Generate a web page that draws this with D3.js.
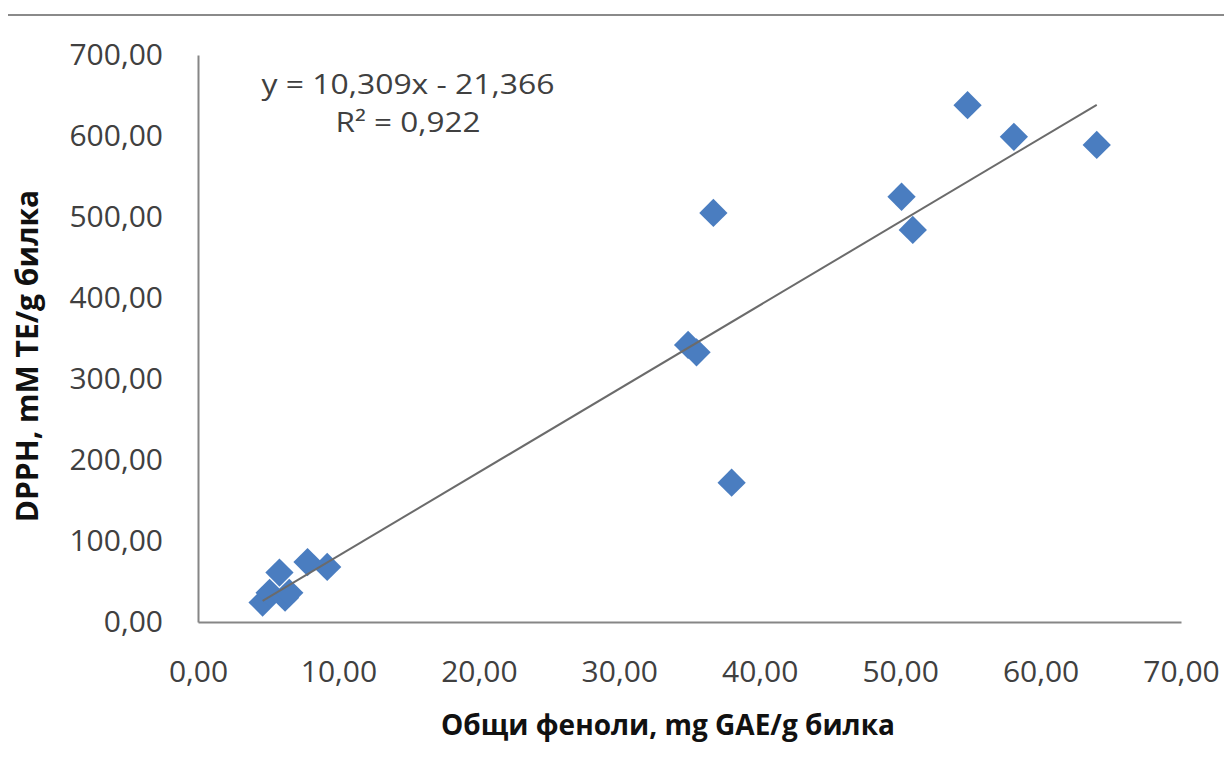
<!DOCTYPE html>
<html>
<head>
<meta charset="utf-8">
<script src="https://cdn.jsdelivr.net/npm/d3@7"></script>
<style>
  html, body { margin: 0; padding: 0; background: #fff; }
  svg { display: block; }
</style>
</head>
<body>
<svg id="chart" width="1224" height="782"></svg>
<script>
// Data
const phenols = [4.6, 5.1, 5.8, 6.2, 6.5, 7.8, 9.2, 34.9, 35.5, 36.7, 38.0, 50.1, 50.9, 54.8, 58.1, 64.0];
const dpph    = [24, 36, 61, 30, 36, 74, 68, 342, 333, 505, 172, 525, 484, 638, 599, 589];
const xTicks = [0, 10, 20, 30, 40, 50, 60, 70];
const yTicks = [0, 100, 200, 300, 400, 500, 600, 700];
const slope = 10.309;
const intercept = -21.366;
const equationLabel = "y = 10,309x - 21,366";
const r2Label = "R² = 0,922";
const xTitle = "Общи феноли, mg GAE/g билка";
const yTitle = "DPPH, mM TE/g билка";

(function () {
const svg = d3.select("#chart");
const W = 1224, H = 782;
const mLeft = 198, mRight = 1181, mTop = 55, mBottom = 622;

const x = d3.scaleLinear().domain([0, 70]).range([mLeft, mRight]);
const y = d3.scaleLinear().domain([0, 700]).range([mBottom, mTop]);
const fmt = v => d3.format(".2f")(v).replace(".", ",");

// top border line
svg.append("line")
  .attr("x1", 8).attr("x2", W).attr("y1", 15).attr("y2", 15)
  .attr("stroke", "#8a8a8a").attr("stroke-width", 2);

const font = "'Open Sans', sans-serif";

// Y axis
const yAxis = svg.append("g").attr("transform", `translate(${mLeft},0)`)
  .call(d3.axisLeft(y).tickValues(yTicks).tickFormat(fmt).tickSize(0).tickPadding(35));
yAxis.select(".domain").attr("stroke", "#868686").attr("stroke-width", 2);
yAxis.selectAll("text").attr("font-family", font).attr("font-size", 30).attr("fill", "#404040");

// X axis
const xAxis = svg.append("g").attr("transform", `translate(0,${mBottom})`)
  .call(d3.axisBottom(x).tickValues(xTicks).tickFormat(fmt).tickSize(0).tickPadding(39));
xAxis.select(".domain").attr("stroke", "#868686").attr("stroke-width", 2);
xAxis.selectAll("text").attr("font-family", font).attr("font-size", 30).attr("fill", "#404040");

// points
const pts = phenols.map((v, i) => ({ px: v, py: dpph[i] }));
svg.append("g").selectAll("path").data(pts).join("path")
  .attr("d", d3.symbol().type(d3.symbolSquare).size(400))
  .attr("transform", d => `translate(${x(d.px)},${y(d.py)}) rotate(45)`)
  .attr("fill", "#4a7dc0");

// trendline
const xmin = d3.min(phenols), xmax = d3.max(phenols);
svg.append("path")
  .datum([xmin, xmax])
  .attr("d", d3.line().x(d => x(d)).y(d => y(slope * d + intercept)))
  .attr("stroke", "#6b6b6b").attr("stroke-width", 2).attr("fill", "none");

// equation
svg.append("text").attr("x", 408).attr("y", 94).attr("text-anchor", "middle")
  .attr("font-family", font).attr("font-size", 27).attr("fill", "#404040")
  .attr("textLength", 293).attr("lengthAdjust", "spacingAndGlyphs")
  .text(equationLabel);
svg.append("text").attr("x", 408).attr("y", 132).attr("text-anchor", "middle")
  .attr("font-family", font).attr("font-size", 27).attr("fill", "#404040")
  .attr("textLength", 145).attr("lengthAdjust", "spacingAndGlyphs")
  .text(r2Label);

// axis titles
svg.append("text").attr("x", 668).attr("y", 735).attr("text-anchor", "middle")
  .attr("font-family", font).attr("font-weight", "bold").attr("font-size", 28).attr("fill", "#111")
  .text(xTitle);
svg.append("text").attr("transform", "translate(38,356) rotate(-90)").attr("text-anchor", "middle")
  .attr("font-family", font).attr("font-weight", "bold").attr("font-size", 30).attr("fill", "#111")
  .text(yTitle);
})();
</script>
</body>
</html>
